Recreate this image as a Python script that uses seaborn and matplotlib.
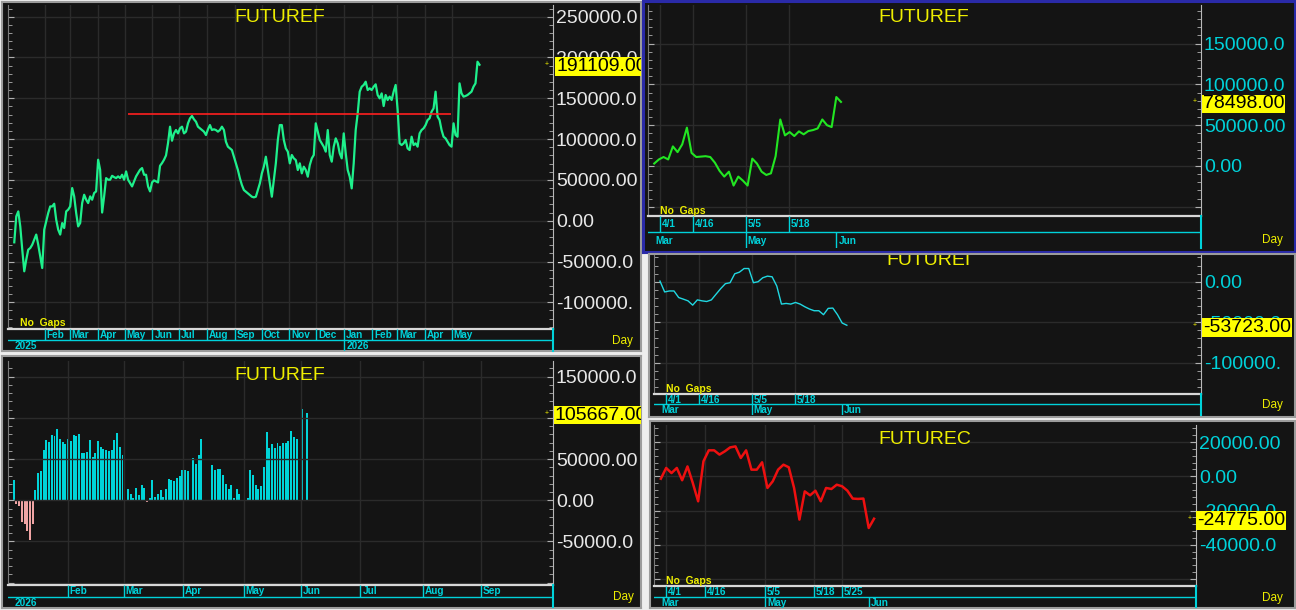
import numpy as np
import pandas as pd
import seaborn as sns
import matplotlib.pyplot as plt
from matplotlib.ticker import MultipleLocator
from matplotlib.transforms import blended_transform_factory, offset_copy

plt.rcParams['font.family'] = ['Liberation Sans', 'DejaVu Sans']

# ---------------- data ----------------
# top-left FUTUREF, values in thousands, read every ~2 days
futuref_k = [
    -26.5, 5.3, 11.4, -7.0, -35.5, -62.0, -47.7, -35.5, -33.5, -29.4,
    -23.2, -17.0, -29.4, -43.6, -58.0, -11.0, -0.8, 9.4, 17.5, 17.5,
    20.8, 1.2, -11.0, -17.0, -2.9, -9.0, 11.4, 13.5, 17.5, 40.0,
    29.8, 9.4, -7.0, -2.9, 21.6, 31.8, 25.7, 21.6, 29.8, 25.7,
    33.9, 35.9, 74.7, 62.4, 10.0, 29.8, 52.2, 50.2, 50.2, 55.0,
    53.4, 52.2, 54.3, 52.2, 56.3, 50.2, 60.4, 50.2, 46.1, 42.0,
    48.1, 54.3, 58.3, 62.4, 64.5, 56.3, 56.3, 42.0, 35.9, 46.9,
    49.4, 48.1, 46.9, 67.3, 70.6, 74.7, 80.0, 95.0,
    115.2, 98.0, 107.0, 111.1, 107.0, 113.2, 115.2, 107.0, 109.1, 119.3,
    125.4, 128.3, 124.2, 121.3, 115.2, 113.2, 111.1, 109.1, 105.0, 112.0,
    117.2, 111.1, 112.0, 111.1, 109.1, 111.1, 115.2, 111.1, 96.8, 90.7,
    88.6, 86.6, 78.4, 70.3, 62.1, 51.9, 43.7, 37.6, 35.5, 33.5,
    31.5, 29.4, 28.6, 29.4, 37.6, 45.8, 58.0, 66.2, 78.4, 62.1,
    45.8, 29.4, 49.8, 70.3, 98.9, 117.2, 117.2, 98.9, 88.6, 84.6,
    70.3, 80.5, 76.4, 74.3, 62.1, 70.3, 58.0, 66.2, 62.1, 53.9,
    68.2, 76.4, 80.5, 119.3, 109.1, 98.9, 94.8, 90.7, 84.6, 111.1,
    80.5, 72.3, 90.7, 100.9, 94.8, 82.6, 76.4, 107.0, 82.6, 62.1,
    53.9, 39.6, 70.3, 111.1, 131.5, 158.1, 164.2, 166.3, 170.3, 160.1,
    162.2, 160.1, 164.2, 167.1, 154.0, 149.9, 156.0, 140.5, 154.0, 147.9,
    152.0, 147.9, 158.1, 166.3, 135.6, 94.8, 92.7, 94.8, 98.9, 88.6,
    86.6, 102.9, 92.7, 94.8, 90.7, 107.0, 111.1, 113.2, 117.2, 123.4,
    125.4, 133.6, 137.6, 158.1, 127.5, 123.4, 111.1, 102.9, 100.9, 96.8,
    92.7, 90.7, 119.3, 105.0, 102.9, 168.3, 156.0, 152.0, 152.8, 154.0,
    156.0, 158.1, 164.2, 168.3, 194.8, 191.109,
]
futuref_start, futuref_end = "2024-12-29", "2026-06-01"
resist_value = 131000
resist_from, resist_to = "2025-05-05", "2026-04-30"

# bottom-left FUTUREF histogram (None = no bar)
hist_vals = [
    24400, -4000, -7300, -26400, -29300, -37400, -48000, -28500, 13000, 32500,
    35400, 61000, 73200, 70700, 79300, 78000, 86600, 74000, 70700, 68300,
    74000, 72400, 79300, 78000, 80900, 57700, 56900, 59000, 72800, 52400,
    56900, 71500, 65000, 62600, 60600, 60200, 61000, 73200, 81700, 65000,
    54500, None, 14200, 7300, 3300, 15000, 6100, 19100, 15400, -2000,
    3300, 24400, 4100, 7300, 12200, 3700, 13400, 25600, 24800, 23200,
    27600, 29300, 36600, 36600, 35000, None, 50800, 43500, 54500, 74400,
    None, None, None, 42700, 36600, 38200, 38200, 30500, 20300, 13400,
    19100, 3300, 13400, 8100, None, None, 3300, 36600, 30500, 19100,
    14200, 17100, 39800, 83300, 63800, 68300, 63000, 69100, 65900, 69100,
    69900, 72400, 84100, 76400, 74800, None, 111000, None, 105667,
]
hist_month_pos = [19.9, 40.4, 62.3, 84.5, 105.7, 127.5, 150.5, 171.7]
hist_month_labels = ["Feb", "Mar", "Apr", "May", "Jun", "Jul", "Aug", "Sep"]

# right column, one value per session
short_f = [3000, 8000, 11000, 8000, 24000, 17000, 26500, 47000, 16000, 11000,
           11500, 12000, 11000, 4000, -6000, -13000, -7000, -24000, -13000, -18000,
           -24000, 9000, 3000, -7000, -11000, -9000, 12000, 57000, 37500, 41600,
           36700, 42400, 38800, 42800, 44000, 46000, 57000, 50000, 47700, 84500, 78498]
short_i = [800, -12600, -11400, -11400, -19500, -21500, -23600, -28900, -22400, -23600,
           -24400, -22400, -15400, -8500, -2400, -1200, 9800, 11800, 16300, 16300,
           -1200, 0, 4900, 6900, 6100, -5300, -27600, -26800, -27600, -25600,
           -27600, -30900, -33700, -35800, -35800, -40700, -32900, -32500, -40700, -51000, -53723]
short_c = [-1400, 4900, 1900, 4900, -2300, 5800, -3900, -14600, 8800, 15200,
           15200, 12700, 14600, 16900, 17500, 10700, 15200, 3900, 3900, 8200,
           -6800, -2900, 3900, 6800, 5300, -6800, -25300, -8800, -11100, -8400,
           -14600, -6800, -7400, -4900, -5800, -8400, -13000, -13200, -13000, -30200, -24775]
day_labels = ["4/1", "4/16", "5/5", "5/18"]
day_pos = [1.2, 8.3, 19.6, 28.9]
day_labels_c = ["4/1", "4/16", "5/5", "5/18", "5/25"]
day_pos_c = [1.0, 8.2, 19.5, 28.7, 33.9]
mon_labels = ["May", "Jun"]
mon_pos = [19.6, 39.0]

# ---------------- style helpers ----------------
W, H = 1296, 610
BG = "#141414"
GRID = "#2b2b2b"
CYAN = "#00d2da"
YEL = "#eeee00"
WHITE = "#e8e8e8"
small = dict(fontsize=7.2, fontweight="bold", color=CYAN, va="center", ha="left")

fig = plt.figure(figsize=(W / 100, H / 100), dpi=100, facecolor="#eeeeee")


def box(l, t, r, b):
    return [l / W, 1 - b / H, (r - l) / W, (b - t) / H]


def ylab(v):
    return f"{v:.2f}"[:8]


def panel(outer, plot, edge="#9c9c9c", elw=1.5):
    bg = fig.add_axes(box(*outer))
    bg.set_facecolor(BG)
    bg.set_xticks([])
    bg.set_yticks([])
    for s in bg.spines.values():
        s.set_color(edge)
        s.set_linewidth(elw)
    ax = fig.add_axes(box(*plot))
    ax.set_facecolor(BG)
    return bg, ax


def finish(ax, xlim, ylim, yticks, hide, lab_col, minor, xgrid):
    ax.set_xlabel("")
    ax.set_ylabel("")
    ax.set_yticks(yticks, labels=["" if v in hide else ylab(v) for v in yticks])
    ax.set_xticks(xgrid)
    ax.set_xlim(*xlim)
    ax.set_ylim(*ylim)
    ax.yaxis.set_minor_locator(MultipleLocator(minor))
    ax.tick_params(axis="x", length=0, labelbottom=False)
    ax.tick_params(axis="y", which="both", direction="in", left=True, right=True,
                   labelleft=False, labelright=True, color="#b0b0b0")
    ax.tick_params(axis="y", which="major", length=4, pad=2, labelsize=14, labelcolor=lab_col)
    ax.tick_params(axis="y", which="minor", length=3)
    ax.grid(True, which="major", color=GRID, lw=1)
    ax.spines["top"].set_visible(False)
    ax.spines["left"].set_color("#7a7a7a")
    ax.spines["right"].set_color("#b8b8b8")
    ax.spines["bottom"].set_color("#d8d8d8")
    ax.spines["bottom"].set_linewidth(1.6)


def strip(plot, bottom, sep, xlim, top_pos, top_lab, bot_pos, bot_lab, edge_lab):
    l, t, r, b = plot
    st = fig.add_axes(box(l, b, r, bottom))
    st.set_xlim(*xlim)
    st.set_ylim(bottom, b)
    st.axis("off")
    st.axhline(sep, color=CYAN, lw=1)
    st.axvline(xlim[1], color=CYAN, lw=1.5, clip_on=False)
    st.vlines(top_pos, sep, b, color=CYAN, lw=1)
    if len(bot_pos):
        st.vlines(bot_pos, bottom, sep, color=CYAN, lw=1)
    tr = offset_copy(st.transData, fig=fig, x=2, y=0, units="dots")
    for x, s in zip(top_pos, top_lab):
        st.text(x, (b + sep) / 2 + 0.5, s, transform=tr, **small)
    for x, s in zip(bot_pos, bot_lab):
        st.text(x, (sep + bottom) / 2 + 0.5, s, transform=tr, **small)
    edge = offset_copy(blended_transform_factory(st.transAxes, st.transData),
                       fig=fig, x=7, y=0, units="dots")
    st.text(0, (sep + bottom) / 2 + 0.5, edge_lab, transform=edge, **small)


def tag(ax, bg, x_px, plot_right, value):
    tr = blended_transform_factory(fig.transFigure, ax.transData)
    t = ax.text(x_px / W, value, f"{value:.2f}", transform=tr, fontsize=14, color="black",
                va="center_baseline", ha="left", zorder=10,
                bbox=dict(boxstyle="square,pad=0.04", fc="#ffff00", ec="none"))
    t.set_clip_path(None)
    t.set_clip_on(True)
    t.set_clip_box(bg.bbox)
    ax.text((plot_right - 6) / W, value, "+", transform=tr, fontsize=5, color=YEL,
            va="center", ha="center")


def title(ax, cx, base, s):
    ax.text(cx / W, 1 - base / H, s, transform=fig.transFigure, ha="center",
            va="baseline", fontsize=14, color=YEL, clip_on=True)


def note(x, base, s, size=7.5, weight="bold"):
    fig.text(x / W, 1 - base / H, s, fontsize=size, fontweight=weight, color=YEL,
             ha="left", va="baseline")


# ---------------- panel 1: FUTUREF long line ----------------
p1 = (8, 5, 553, 329)
bg1, ax1 = panel((2, 2, 641, 351), p1)
dates1 = pd.date_range(futuref_start, futuref_end, periods=len(futuref_k))
sns.lineplot(x=dates1, y=np.array(futuref_k) * 1000, ax=ax1, color="#1ef08c", linewidth=1.6)
ax1.hlines(resist_value, pd.Timestamp(resist_from), pd.Timestamp(resist_to),
           color="#ff2020", lw=1.2, zorder=3)
months1 = pd.date_range("2025-02-01", "2026-05-01", freq="MS")
xlim1 = (pd.Timestamp("2024-12-22"), pd.Timestamp("2026-08-22"))
finish(ax1, xlim1, (-132700, 264300), list(range(-100000, 250001, 50000)), set(),
       WHITE, 10000, list(months1))
strip(p1, 351, 340, xlim1, list(months1), [m.strftime("%b") for m in months1],
      [pd.Timestamp("2026-01-01")], ["2026"], "2025")
title(ax1, 280, 22.5, "FUTUREF")
tag(ax1, bg1, 556, p1[2], futuref_k[-1] * 1000)
note(20, 326, "No  Gaps")
note(612, 344, "Day", size=8.5, weight="normal")

# ---------------- panel 4: FUTUREF histogram ----------------
p4 = (8, 361, 553, 585)
bg4, ax4 = panel((2, 356, 641, 608), p4)
hist = pd.DataFrame({"i": np.arange(len(hist_vals)), "v": hist_vals}).dropna()
hist["sign"] = np.where(hist["v"] >= 0, "up", "down")
sns.barplot(data=hist, x="i", y="v", hue="sign", palette={"up": "#00d4d8", "down": "#f0a4a4"},
            native_scale=True, dodge=False, width=0.72, errorbar=None, legend=False,
            saturation=1, linewidth=0, ax=ax4)
xlim4 = (-2.1, 198.3)
finish(ax4, xlim4, (-102800, 169000), list(range(-100000, 150001, 50000)), {-100000},
       WHITE, 10000, hist_month_pos)
strip(p4, 607, 597, xlim4, hist_month_pos, hist_month_labels, [], [], "2026")
title(ax4, 280, 380, "FUTUREF")
tag(ax4, bg4, 555, p4[2], hist_vals[-1])
note(613, 600, "Day", size=8.5, weight="normal")

# ---------------- panel 2: FUTUREF short ----------------
p2 = (648, 5, 1201, 216)
bg2, ax2 = panel((643, 1, 1295, 252), p2, edge="#2a2aa8", elw=2.2)
sns.lineplot(x=np.arange(len(short_f)), y=short_f, ax=ax2, color="#22e622", linewidth=1.5)
xlim2 = (-1.33, 117.1)
finish(ax2, xlim2, (-61300, 197300), [-50000, 0, 50000, 100000, 150000], {-50000},
       CYAN, 10000, day_pos)
strip(p2, 248, 232, xlim2, day_pos, day_labels, mon_pos, mon_labels, "Mar")
title(ax2, 924, 21.7, "FUTUREF")
tag(ax2, bg2, 1203, p2[2], short_f[-1])
note(660, 214, "No  Gaps")
note(1262, 243, "Day", size=8.5, weight="normal")

# ---------------- panel 3: FUTUREI ----------------
p3 = (654, 255, 1201, 394)
bg3, ax3 = panel((649, 254, 1295, 417), p3)
sns.lineplot(x=np.arange(len(short_i)), y=short_i, ax=ax3, color="#20d8e2", linewidth=1.0)
xlim3 = (-1.28, 115.8)
finish(ax3, xlim3, (-138600, 33000), [-100000, -50000, 0], set(), CYAN, 10000, day_pos)
strip(p3, 415, 404, xlim3, day_pos, day_labels, mon_pos, mon_labels, "Mar")
title(ax3, 928, 265, "FUTUREI")
tag(ax3, bg3, 1203, p3[2], short_i[-1])
note(666, 392, "No  Gaps")
note(1262, 408, "Day", size=8.5, weight="normal")

# ---------------- panel 5: FUTUREC ----------------
p5 = (654, 425, 1196, 586)
bg5, ax5 = panel((650, 421, 1295, 608), p5)
sns.lineplot(x=np.arange(len(short_c)), y=short_c, ax=ax5, color="#ee1010", linewidth=1.8)
xlim5 = (-1.28, 100.4)
finish(ax5, xlim5, (-64100, 30000), [-60000, -40000, -20000, 0, 20000], {-60000},
       CYAN, 4000, day_pos_c)
strip(p5, 607, 597, xlim5, day_pos_c, day_labels_c, mon_pos, mon_labels, "Mar")
title(ax5, 925, 444, "FUTUREC")
tag(ax5, bg5, 1197, p5[2], short_c[-1])
note(666, 584, "No  Gaps")
note(1262, 601, "Day", size=8.5, weight="normal")

fig.savefig("out.png", dpi=100, facecolor=fig.get_facecolor())
